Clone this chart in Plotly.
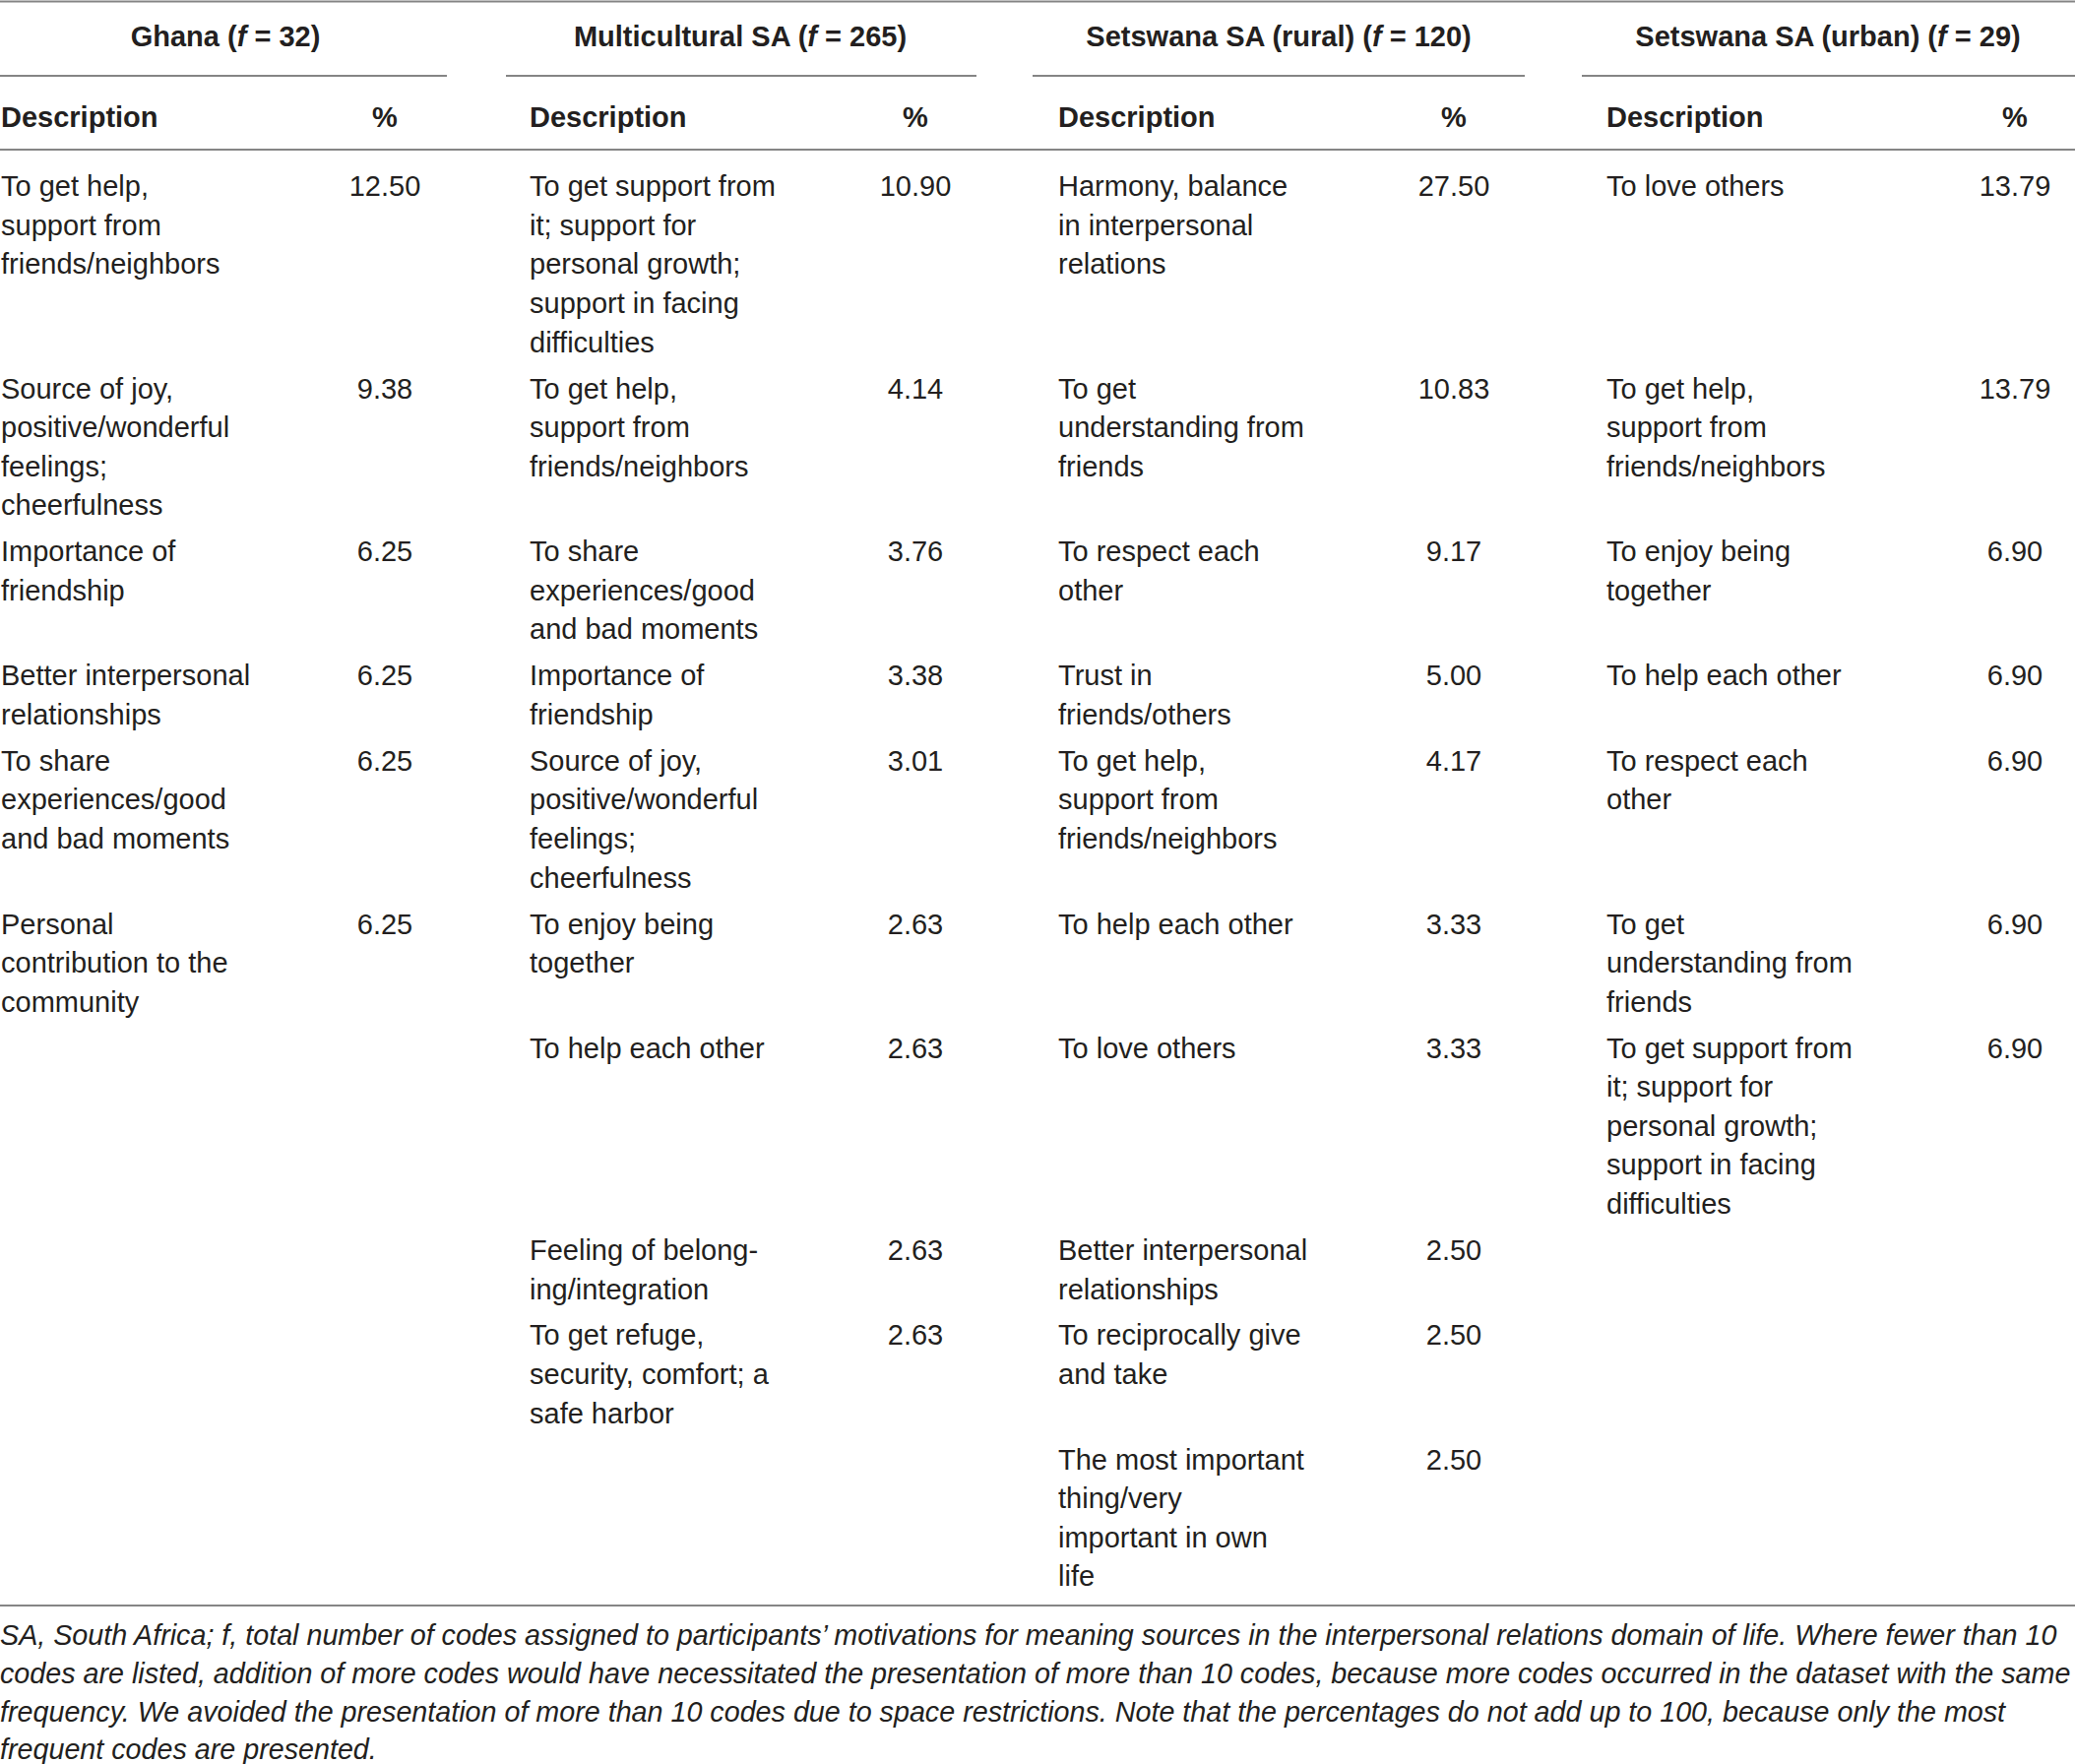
import plotly.graph_objects as go

# ---- table content ----
group_names = ["Ghana", "Multicultural SA", "Setswana SA (rural)", "Setswana SA (urban)"]
group_f = [32, 265, 120, 29]

ghana_desc = [
    "To get help,<br>support from<br>friends/neighbors",
    "Source of joy,<br>positive/wonderful<br>feelings;<br>cheerfulness",
    "Importance of<br>friendship",
    "Better interpersonal<br>relationships",
    "To share<br>experiences/good<br>and bad moments",
    "Personal<br>contribution to the<br>community",
]
ghana_pct = [12.50, 9.38, 6.25, 6.25, 6.25, 6.25]

multi_desc = [
    "To get support from<br>it; support for<br>personal growth;<br>support in facing<br>difficulties",
    "To get help,<br>support from<br>friends/neighbors",
    "To share<br>experiences/good<br>and bad moments",
    "Importance of<br>friendship",
    "Source of joy,<br>positive/wonderful<br>feelings;<br>cheerfulness",
    "To enjoy being<br>together",
    "To help each other",
    "Feeling of belong-<br>ing/integration",
    "To get refuge,<br>security, comfort; a<br>safe harbor",
]
multi_pct = [10.90, 4.14, 3.76, 3.38, 3.01, 2.63, 2.63, 2.63, 2.63]

rural_desc = [
    "Harmony, balance<br>in interpersonal<br>relations",
    "To get<br>understanding from<br>friends",
    "To respect each<br>other",
    "Trust in<br>friends/others",
    "To get help,<br>support from<br>friends/neighbors",
    "To help each other",
    "To love others",
    "Better interpersonal<br>relationships",
    "To reciprocally give<br>and take",
    "The most important<br>thing/very<br>important in own<br>life",
]
rural_pct = [27.50, 10.83, 9.17, 5.00, 4.17, 3.33, 3.33, 2.50, 2.50, 2.50]

urban_desc = [
    "To love others",
    "To get help,<br>support from<br>friends/neighbors",
    "To enjoy being<br>together",
    "To help each other",
    "To respect each<br>other",
    "To get<br>understanding from<br>friends",
    "To get support from<br>it; support for<br>personal growth;<br>support in facing<br>difficulties",
]
urban_pct = [13.79, 13.79, 6.90, 6.90, 6.90, 6.90, 6.90]

footnote_lines = [
    "SA, South Africa; f, total number of codes assigned to participants\u2019 motivations for meaning sources in the interpersonal relations domain of life. Where fewer than 10",
    "codes are listed, addition of more codes would have necessitated the presentation of more than 10 codes, because more codes occurred in the dataset with the same",
    "frequency. We avoided the presentation of more than 10 codes due to space restrictions. Note that the percentages do not add up to 100, because only the most",
    "frequent codes are presented.",
]

all_desc = [ghana_desc, multi_desc, rural_desc, urban_desc]
all_pct = [ghana_pct, multi_pct, rural_pct, urban_pct]

# ---- layout (pixels) ----
W, H = 2108, 1792
desc_x = [1, 538, 1075, 1632]
pct_x = [391, 930, 1477, 2047]
head_x = [229, 752, 1299, 1857]
rule_spans = [(0, 454), (514, 992), (1049, 1549), (1607, 2108)]
TY = 4  # text baseline nudge
y_group, y_rule1, y_colhead, y_rule2, y_body = 36 + TY, 77, 118 + TY, 152, 188 + TY
line_h, row_gap = 39.6, 7.3
FONT = "Liberation Sans, Arial, sans-serif"
FS = 29
INK = "#231f20"
RULE = "#858585"

n_rows = max(len(d) for d in all_desc)
row_lines = []
for r in range(n_rows):
    row_lines.append(max(d[r].count("<br>") + 1 for d in all_desc if r < len(d)))

row_top = []
y = y_body
for n in row_lines:
    row_top.append(y)
    y += n * line_h + row_gap
last_line = row_top[-1] + (row_lines[-1] - 1) * line_h
y_bottom = last_line - TY + 31

dx, dy, dt = [], [], []
px_, py_, pt_ = [], [], []
for g in range(4):
    for r, (desc, pct) in enumerate(zip(all_desc[g], all_pct[g])):
        for i, part in enumerate(desc.split("<br>")):
            dx.append(desc_x[g])
            dy.append(row_top[r] + i * line_h)
            dt.append(part)
        px_.append(pct_x[g])
        py_.append(row_top[r])
        pt_.append(f"{pct:.2f}")

fig = go.Figure()


def text_trace(x, y, text, pos, size=FS):
    return go.Scatter(
        x=x, y=y, text=text, mode="text", textposition=pos, cliponaxis=False,
        textfont=dict(family=FONT, size=size, color=INK), hoverinfo="skip")


fig.add_trace(text_trace(dx, dy, dt, "middle right"))
fig.add_trace(text_trace(px_, py_, pt_, "middle center"))

# group headers
fig.add_trace(text_trace(
    head_x, [y_group] * 4,
    [f"<b>{n} (<i>f</i> = {f})</b>" for n, f in zip(group_names, group_f)],
    "middle center"))

# column headers
fig.add_trace(text_trace(desc_x, [y_colhead] * 4, ["<b>Description</b>"] * 4, "middle right"))
fig.add_trace(text_trace(pct_x, [y_colhead] * 4, ["<b>%</b>"] * 4, "middle center"))

# footnote
fig.add_trace(text_trace(
    [0] * len(footnote_lines),
    [y_bottom + 33 + i * 38.7 for i in range(len(footnote_lines))],
    [f"<i>{t}</i>" for t in footnote_lines],
    "middle right", size=28.7))

# rules
shapes = [dict(type="line", x0=0, x1=W, y0=1.5, y1=1.5)]
for a, b in rule_spans:
    shapes.append(dict(type="line", x0=a, x1=b, y0=y_rule1, y1=y_rule1))
shapes.append(dict(type="line", x0=0, x1=W, y0=y_rule2, y1=y_rule2))
shapes.append(dict(type="line", x0=0, x1=W, y0=y_bottom, y1=y_bottom))
for s in shapes:
    s.update(xref="x", yref="y", line=dict(color=RULE, width=2), layer="below")

fig.update_layout(
    width=W, height=H,
    margin=dict(l=0, r=0, t=0, b=0),
    paper_bgcolor="white", plot_bgcolor="white",
    showlegend=False, hovermode=False,
    shapes=shapes,
    xaxis=dict(range=[0, W], visible=False, fixedrange=True),
    yaxis=dict(range=[H, 0], visible=False, fixedrange=True),
)

fig.write_html("out.html", config={"displayModeBar": False},
               post_script="document.body.style.margin = '0';")
